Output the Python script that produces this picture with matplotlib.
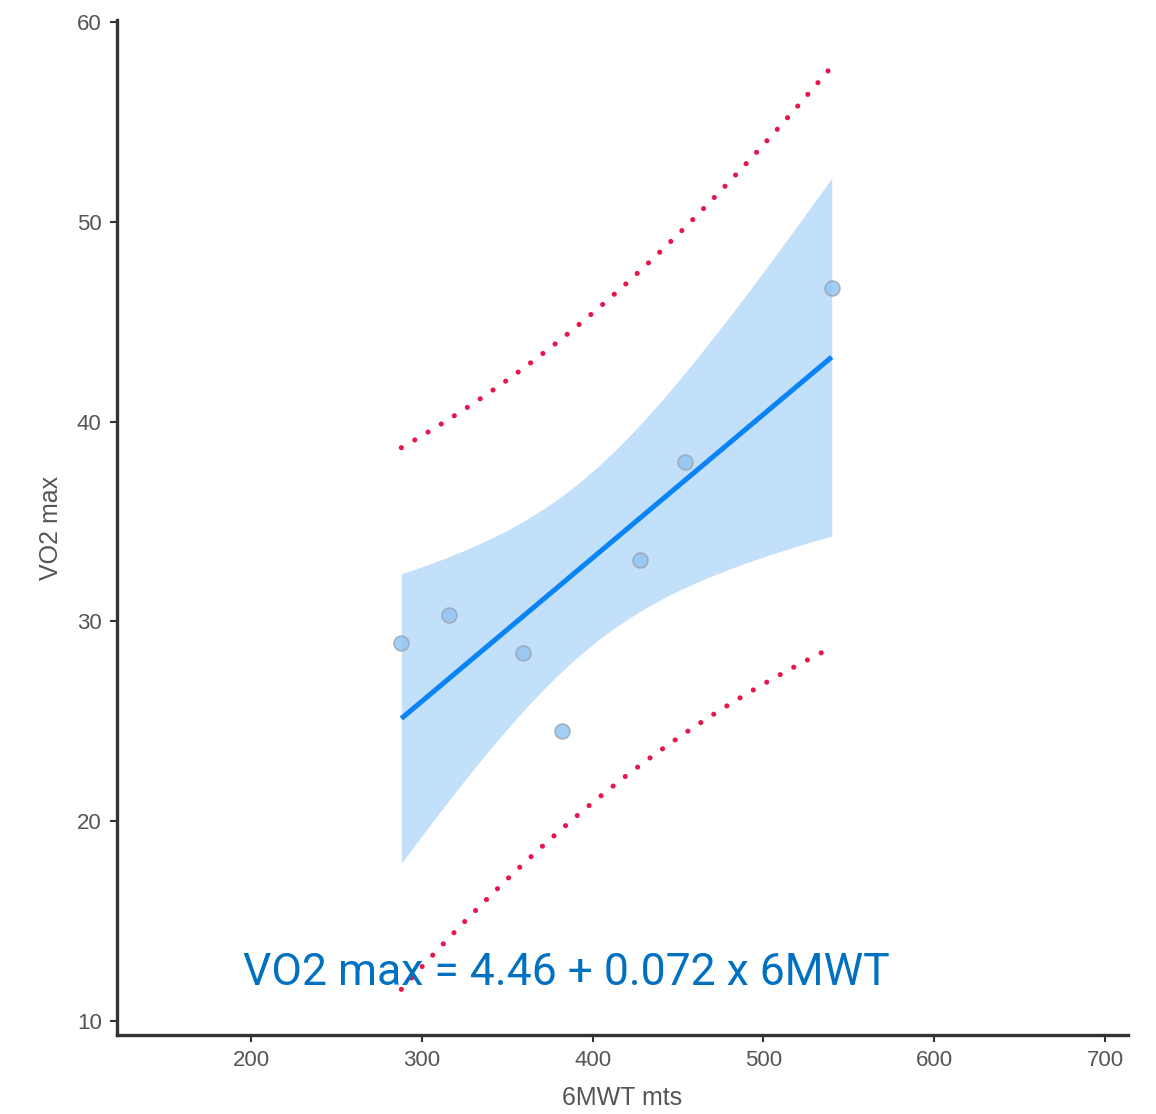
import numpy as np
import matplotlib
matplotlib.use("Agg")
import matplotlib.pyplot as plt

# data
walk_m = np.array([288, 316, 359, 382, 428, 454, 540])
vo2max = np.array([28.9, 30.3, 28.4, 24.5, 33.1, 38.0, 46.7])
x_ticks = [200, 300, 400, 500, 600, 700]
y_ticks = [10, 20, 30, 40, 50, 60]
equation = "VO2 max = 4.46 + 0.072 x 6MWT"

# least squares fit with 95% confidence / prediction bands
n = len(walk_m)
slope, intercept = np.polyfit(walk_m, vo2max, 1)
resid = vo2max - (intercept + slope * walk_m)
s = np.sqrt(np.sum(resid ** 2) / (n - 2))
t_crit = 2.5706  # t(0.975, df=5)
xm = walk_m.mean()
sxx = np.sum((walk_m - xm) ** 2)
xs = np.linspace(walk_m.min(), walk_m.max(), 200)
fit = intercept + slope * xs
se_ci = s * np.sqrt(1 / n + (xs - xm) ** 2 / sxx)
se_pi = s * np.sqrt(1 + 1 / n + (xs - xm) ** 2 / sxx)

plt.rcParams["font.family"] = ["Liberation Sans", "DejaVu Sans"]

fig = plt.figure(figsize=(11.56, 11.14), dpi=100)
ax = fig.add_axes([0.1012, 0.0709, 0.8746, 0.9111])

ax.fill_between(xs, fit - t_crit * se_ci, fit + t_crit * se_ci,
                color="#c3e0fa", lw=0, zorder=1)
ax.plot(xs, fit, color="#0a84f5", lw=3.6, solid_capstyle="butt", zorder=3)
for band in (fit + t_crit * se_pi, fit - t_crit * se_pi):
    ax.plot(xs, band, color="#e8174b", lw=3.7,
            linestyle=(0, (0.01, 3.0)), dash_capstyle="round", zorder=2)
ax.scatter(walk_m, vo2max, s=115, facecolor="#8ec3f2", edgecolor="#9aa5b0",
           linewidth=1.2, alpha=0.8, zorder=4)

ax.text(195.3, 11.8, equation, fontsize=32, color="#0070c0",
        family="Roboto", ha="left", va="baseline", zorder=5)

ax.set_xlim(121.5, 713.5)
ax.set_ylim(9.3, 60.1)
ax.set_xticks(x_ticks)
ax.set_yticks(y_ticks)
for side in ["top", "right"]:
    ax.spines[side].set_visible(False)
for side in ["left", "bottom"]:
    ax.spines[side].set_linewidth(2.4)
    ax.spines[side].set_color("#333333")
ax.tick_params(length=5, width=1.5, color="#333333", labelcolor="#555555",
               labelsize=16, pad=6)
ax.set_xlabel("6MWT mts", fontsize=18, color="#555555", va="center")
ax.set_ylabel("VO2 max", fontsize=18, color="#555555", va="center")
ax.xaxis.set_label_coords(0.5, -0.062)
ax.yaxis.set_label_coords(-0.065, 0.5)

fig.savefig("out.png", dpi=100)
